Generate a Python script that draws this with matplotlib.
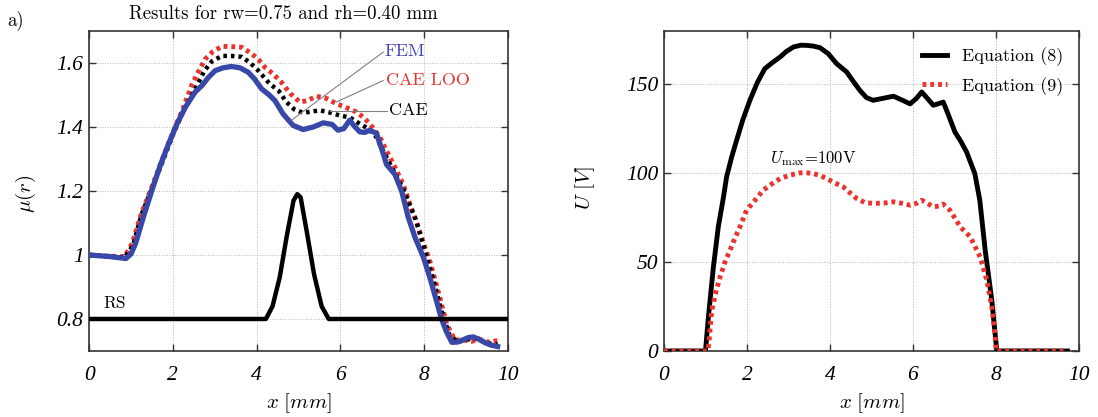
import matplotlib
matplotlib.use("Agg")
import matplotlib.pyplot as plt

plt.rcParams["font.family"] = "cmr10"
plt.rcParams["mathtext.fontset"] = "cm"
plt.rcParams["axes.formatter.use_mathtext"] = True

# left panel: mu(r) along x
fem_x = [0, 0.5, 0.88, 1.0, 1.11, 1.3, 1.5, 1.7, 1.9, 2.1, 2.3, 2.53, 2.69, 2.85, 3.01, 3.2,
         3.4, 3.6, 3.8, 3.95, 4.12, 4.3, 4.44, 4.63, 4.87, 5.11, 5.35, 5.59, 5.8, 5.94, 6.08,
         6.22, 6.35, 6.46, 6.58, 6.70, 6.86, 7.02, 7.10, 7.30, 7.46, 7.62, 7.78, 7.98, 8.13,
         8.29, 8.41, 8.53, 8.66, 8.8, 8.93, 9.05, 9.17, 9.3, 9.45, 9.6, 9.75]
fem_y = [1.0, 0.995, 0.989, 1.003, 1.036, 1.12, 1.202, 1.28, 1.348, 1.41, 1.462, 1.509, 1.529,
         1.555, 1.576, 1.585, 1.589, 1.585, 1.571, 1.55, 1.519, 1.50, 1.482, 1.441, 1.405,
         1.392, 1.40, 1.413, 1.408, 1.39, 1.395, 1.421, 1.40, 1.385, 1.383, 1.39, 1.38, 1.317,
         1.283, 1.252, 1.20, 1.117, 1.055, 0.993, 0.931, 0.858, 0.801, 0.76, 0.727, 0.728,
         0.735, 0.742, 0.744, 0.737, 0.726, 0.718, 0.714]

loo_x = [0, 0.5, 0.85, 1.03, 1.25, 1.5, 1.75, 2.02, 2.25, 2.46, 2.62, 2.77, 2.95, 3.17, 3.4,
         3.65, 3.89, 4.05, 4.2, 4.4, 4.59, 4.8, 5.03, 5.2, 5.43, 5.65, 5.9, 6.15, 6.38, 6.55,
         6.70, 6.94, 7.1, 7.26, 7.5, 7.68, 7.86, 8.0, 8.13, 8.25, 8.37, 8.53, 8.73, 8.9, 9.13,
         9.3, 9.5, 9.75]
loo_y = [1.0, 0.996, 0.995, 1.036, 1.13, 1.213, 1.30, 1.389, 1.46, 1.534, 1.575, 1.612, 1.635,
         1.652, 1.651, 1.649, 1.628, 1.61, 1.586, 1.565, 1.54, 1.505, 1.478, 1.482, 1.496,
         1.49, 1.473, 1.46, 1.447, 1.43, 1.41, 1.369, 1.325, 1.285, 1.22, 1.15, 1.086, 1.03,
         0.982, 0.925, 0.868, 0.785, 0.734, 0.735, 0.73, 0.738, 0.728, 0.732]

cae_x = [0, 0.5, 0.85, 1.05, 1.25, 1.5, 1.75, 2.0, 2.25, 2.5, 2.75, 2.93, 3.17, 3.4, 3.65,
         3.85, 4.04, 4.31, 4.52, 4.71, 4.9, 5.11, 5.3, 5.51, 5.75, 5.98, 6.22, 6.46, 6.66,
         6.85, 7.0, 7.2, 7.5, 7.8, 8.0, 8.2, 8.4, 8.6, 8.8, 9.0, 9.2, 9.4, 9.6, 9.75]
cae_y = [1.0, 0.995, 0.992, 1.03, 1.125, 1.208, 1.29, 1.375, 1.45, 1.51, 1.575, 1.605, 1.622,
         1.622, 1.619, 1.60, 1.576, 1.535, 1.514, 1.478, 1.455, 1.444, 1.448, 1.452, 1.445,
         1.436, 1.43, 1.41, 1.395, 1.37, 1.33, 1.28, 1.205, 1.11, 1.02, 0.93, 0.83, 0.75,
         0.728, 0.735, 0.74, 0.73, 0.722, 0.72]

rs_x = [0, 4.22, 4.38, 4.55, 4.72, 4.88, 4.97, 5.05, 5.2, 5.37, 5.55, 5.72, 10]
rs_y = [0.8, 0.8, 0.84, 0.93, 1.06, 1.17, 1.19, 1.18, 1.07, 0.94, 0.84, 0.8, 0.8]

# right panel: U along x
eq8_x = [0, 1.0, 1.07, 1.19, 1.31, 1.43, 1.51, 1.63, 1.75, 1.9, 2.07, 2.25, 2.43, 2.6, 2.8,
         2.95, 3.12, 3.3, 3.44, 3.6, 3.76, 3.96, 4.16, 4.40, 4.55, 4.72, 4.88, 5.04, 5.25,
         5.53, 5.75, 5.93, 6.08, 6.21, 6.35, 6.49, 6.6, 6.73, 6.85, 7.01, 7.15, 7.29, 7.49,
         7.61, 7.74, 7.90, 7.98, 8.02, 9.72]
eq8_y = [0, 0, 19, 47, 70, 86, 98, 109, 118.5, 130, 141, 151, 158.8, 162, 165.4, 168.5, 171,
         172, 171.9, 171.5, 170.6, 167.2, 161.6, 157, 152, 146.6, 142.5, 141, 142, 143.3, 141,
         139, 142, 145.7, 142, 138.2, 139, 140, 133, 123.2, 118, 112, 99.8, 84.8, 56.6, 28.3,
         9.4, 0, 0]

eq9_x = [0, 1.05, 1.08, 1.15, 1.25, 1.35, 1.47, 1.59, 1.71, 1.83, 1.99, 2.2, 2.39, 2.6, 2.80,
         3.05, 3.28, 3.45, 3.60, 3.76, 3.92, 4.12, 4.32, 4.48, 4.64, 4.84, 5.04, 5.3, 5.53,
         5.75, 5.93, 6.08, 6.21, 6.35, 6.49, 6.62, 6.73, 6.89, 7.14, 7.38, 7.62, 7.78, 7.90,
         7.98, 8.0, 9.72]
eq9_y = [0, 0, 3.8, 22.6, 33, 41.5, 50, 56.6, 63.5, 69.8, 79.2, 85, 90.4, 94, 97, 99, 100.2,
         100.2, 99.8, 98.7, 97, 94.5, 92.3, 89, 85.8, 83.5, 83, 83.2, 83.9, 83, 82, 83, 84.8,
         83, 81.1, 81.5, 82.6, 79.2, 69.8, 64.2, 52.8, 39.6, 24.5, 9.4, 0, 0]

x_ticks = [0, 2, 4, 6, 8, 10]
mu_ticks = [0.8, 1.0, 1.2, 1.4, 1.6]
mu_labels = ["0.8", "1", "1.2", "1.4", "1.6"]
u_ticks = [0, 50, 100, 150]
u_labels = ["0", "50", "100", "150"]

BLUE = "#3848a8"
RED = "#e8342c"
ITAL = dict(family="Liberation Serif", style="italic", size=15.5)

fig = plt.figure(figsize=(10.98, 4.17), dpi=100)
ax1 = fig.add_axes([0.0811, 0.1583, 0.3816, 0.7674])
ax2 = fig.add_axes([0.6047, 0.1583, 0.378, 0.7674])


def style_axes(ax):
    ax.grid(True, color="#b5b5b5", linestyle=":", linewidth=0.7)
    ax.set_axisbelow(True)
    ax.tick_params(direction="in", top=True, right=True, length=5, width=1,
                   color="#333333")
    ax.tick_params(axis="x", pad=11)
    ax.tick_params(axis="y", pad=4)
    for s in ax.spines.values():
        s.set_linewidth(1.2)
        s.set_color("#333333")
    ax.set_xlim(0, 10)
    ax.set_xticks(x_ticks)
    ax.set_xticklabels([str(t) for t in x_ticks], fontdict=ITAL)
    ax.set_xlabel(r"$x\ [mm]$", fontsize=15)
    ax.xaxis.set_label_coords(0.5, -0.125)


# ---- left panel
style_axes(ax1)
ax1.plot(loo_x, loo_y, color=RED, lw=3.5, linestyle=(0, (0.8, 0.8)), zorder=3)
ax1.plot(cae_x, cae_y, color="black", lw=3.2, linestyle=(0, (0.8, 0.9)), zorder=4)
ax1.plot(fem_x, fem_y, color=BLUE, lw=3.8, zorder=5)
ax1.plot(rs_x, rs_y, color="black", lw=3.2, zorder=6)
ax1.set_ylim(0.7, 1.7)
ax1.set_yticks(mu_ticks)
ax1.set_yticklabels(mu_labels, fontdict=ITAL)
ax1.set_ylabel(r"$\mu(r)$", fontsize=15)
ax1.yaxis.set_label_coords(-0.122, 0.49)

ax1.plot([7.02, 4.83], [1.634, 1.421], color="#808080", lw=0.8, zorder=7)
ax1.plot([7.02, 5.90], [1.545, 1.478], color="#808080", lw=0.8, zorder=7)
ax1.plot([7.12, 5.75], [1.449, 1.449], color="#808080", lw=0.8, zorder=7)
ax1.text(7.06, 1.636, "FEM", color="#4444bb", fontsize=13, va="center")
ax1.text(7.08, 1.545, "CAE LOO", color=RED, fontsize=13, va="center")
ax1.text(7.15, 1.452, "CAE", color="black", fontsize=13, va="center")
ax1.text(0.35, 0.848, "RS", color="black", fontsize=12.5, va="center")

fig.text(0.2583, 0.966, "Results for rw=0.75 and rh=0.40 mm", ha="center", va="center",
         fontsize=13.5)
fig.text(0.007, 0.95, "a)", ha="left", va="center", fontsize=13.5)

# ---- right panel
style_axes(ax2)
ax2.plot(eq8_x, eq8_y, color="black", lw=3.5, label="Equation (8)", zorder=4)
ax2.plot(eq9_x, eq9_y, color=RED, lw=3.5, linestyle=(0, (0.8, 0.8)), label="Equation (9)",
         zorder=5)
ax2.set_ylim(0, 180)
ax2.set_yticks(u_ticks)
ax2.set_yticklabels(u_labels, fontdict=ITAL)
ax2.set_ylabel(r"$U\ [V]$", fontsize=15)
ax2.yaxis.set_label_coords(-0.161, 0.51)
ax2.text(2.55, 108, r"$U_{\rm max}$=100V", fontsize=12, va="center")
ax2.legend(loc="upper right", frameon=False, fontsize=13, handlelength=1.4,
           labelspacing=0.6, handletextpad=0.8)

fig.savefig("out.png", dpi=100)
